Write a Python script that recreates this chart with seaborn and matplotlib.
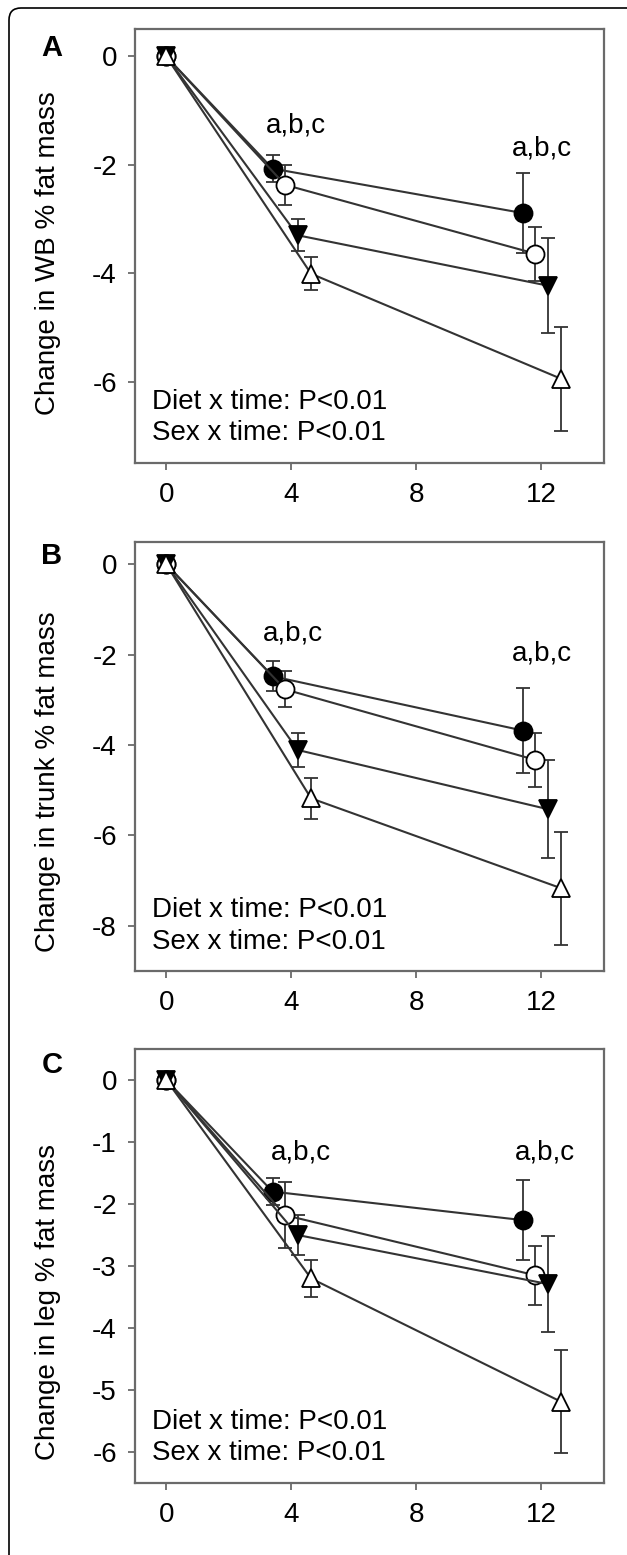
import numpy as np
import pandas as pd
import matplotlib.pyplot as plt
import seaborn as sns
from matplotlib.patches import FancyBboxPatch
from matplotlib.transforms import IdentityTransform

plt.switch_backend("Agg")

# study weeks and the four groups (filled circle, open circle, filled down-triangle, open up-triangle)
weeks = [0, 4, 12]
groups = ["Group 1", "Group 2", "Group 3", "Group 4"]

# change in whole-body % fat mass (mean, SEM), one row per group
wb_change = [[0, -2.07, -2.89], [0, -2.37, -3.64], [0, -3.30, -4.23], [0, -4.01, -5.95]]
wb_sem = [[0, 0.25, 0.73], [0, 0.37, 0.50], [0, 0.30, 0.87], [0, 0.30, 0.96]]

# change in trunk % fat mass
trunk_change = [[0, -2.48, -3.68], [0, -2.77, -4.33], [0, -4.11, -5.42], [0, -5.18, -7.17]]
trunk_sem = [[0, 0.33, 0.95], [0, 0.40, 0.60], [0, 0.38, 1.08], [0, 0.45, 1.25]]

# change in leg % fat mass
leg_change = [[0, -1.80, -2.26], [0, -2.18, -3.15], [0, -2.50, -3.29], [0, -3.20, -5.19]]
leg_sem = [[0, 0.22, 0.65], [0, 0.53, 0.48], [0, 0.32, 0.78], [0, 0.30, 0.83]]

ylabels = ["Change in WB % fat mass", "Change in trunk % fat mass", "Change in leg % fat mass"]
panel_letters = ["A", "B", "C"]
stats_lines = ["Diet x time: P<0.01", "Sex x time: P<0.01"]
sig_label = "a,b,c"

# styling
dodge = [-0.6, -0.2, 0.2, 0.63]
markers = ["o", "o", "v", "^"]
facecolors = ["black", "white", "black", "white"]
line_col = "#333333"
spine_col = "#6a6a6a"
FS = 20


def make_long(change, sem):
    rows = []
    for g, name in enumerate(groups):
        for w, wk in enumerate(weeks):
            rows.append({
                "group": name,
                "week": wk,
                "x": wk + (dodge[g] if wk > 0 else 0.0),
                "change": change[g][w],
                "sem": sem[g][w],
            })
    return pd.DataFrame(rows)


sns.set_style("ticks")
plt.rcParams["font.family"] = ["Liberation Sans", "DejaVu Sans"]
plt.rcParams["axes.unicode_minus"] = False
plt.rcParams["text.color"] = "black"
plt.rcParams["axes.labelcolor"] = "black"
plt.rcParams["xtick.labelcolor"] = "black"
plt.rcParams["ytick.labelcolor"] = "black"

fig = plt.figure(figsize=(6.27, 15.55), dpi=100)

ax_rects = [
    [0.2153, 0.7024, 0.748, 0.2787],
    [0.2153, 0.3756, 0.748, 0.2761],
    [0.2153, 0.0463, 0.748, 0.2791],
]
panels = [
    (wb_change, wb_sem, (-7.5, 0.5), [0, -2, -4, -6], [(4.15, -1.27), (12.0, -1.70)], 0.483),
    (trunk_change, trunk_sem, (-9, 0.5), [0, -2, -4, -6, -8], [(4.05, -1.53), (12.0, -1.97)], 0.44),
    (leg_change, leg_sem, (-6.5, 0.5), [0, -1, -2, -3, -4, -5, -6], [(4.3, -1.17), (12.1, -1.17)], 0.418),
]
letter_y = [0.969, 0.6424, 0.3151]

for i, (change, sem, ylim, yticks, sig_pos, ylab_y) in enumerate(panels):
    ax = fig.add_axes(ax_rects[i])
    df = make_long(change, sem)

    for g, name in enumerate(groups):
        sub = df[df["group"] == name]
        later = sub[sub["week"] > 0]
        ax.errorbar(later["x"], later["change"], yerr=later["sem"], fmt="none",
                    ecolor=line_col, elinewidth=1.3, capsize=4.7, capthick=1.3, zorder=2)
        sns.lineplot(data=sub, x="x", y="change", ax=ax, sort=False, errorbar=None,
                     color=line_col, linewidth=1.5, marker=markers[g], markersize=13,
                     markerfacecolor=facecolors[g], markeredgecolor="black",
                     markeredgewidth=1.3, zorder=3 + g)

    for (sx, sy) in sig_pos:
        ax.text(sx, sy, sig_label, ha="center", va="center", fontsize=FS)

    ax.text(0.036, 0.141, stats_lines[0], transform=ax.transAxes, ha="left", va="center", fontsize=FS)
    ax.text(0.036, 0.068, stats_lines[1], transform=ax.transAxes, ha="left", va="center", fontsize=FS)

    ax.set_xlim(-1, 14)
    ax.set_ylim(*ylim)
    ax.set_xticks([0, 4, 8, 12])
    ax.set_yticks(yticks)
    ax.set_xlabel("")
    ax.set_ylabel(ylabels[i], fontsize=FS)
    ax.yaxis.set_label_coords(-0.158, ylab_y)

    for sp in ax.spines.values():
        sp.set_visible(True)
        sp.set_color(spine_col)
        sp.set_linewidth(1.6)
    ax.tick_params(axis="both", direction="out", length=5, width=1.3, color=spine_col, labelsize=FS)
    ax.tick_params(axis="x", pad=9)
    ax.tick_params(axis="y", pad=8)

    fig.text(0.083, letter_y[i], panel_letters[i], ha="center", va="center",
             fontsize=FS + 1, fontweight="bold")

# journal-style rounded frame (only the left and top edges fall inside the image)
frame = FancyBboxPatch((9, -60), 700, 1547 + 60, boxstyle="round,pad=0,rounding_size=12",
                       fill=False, edgecolor="black", linewidth=1.2, transform=IdentityTransform())
fig.add_artist(frame)

fig.savefig("out.png", dpi=100)
